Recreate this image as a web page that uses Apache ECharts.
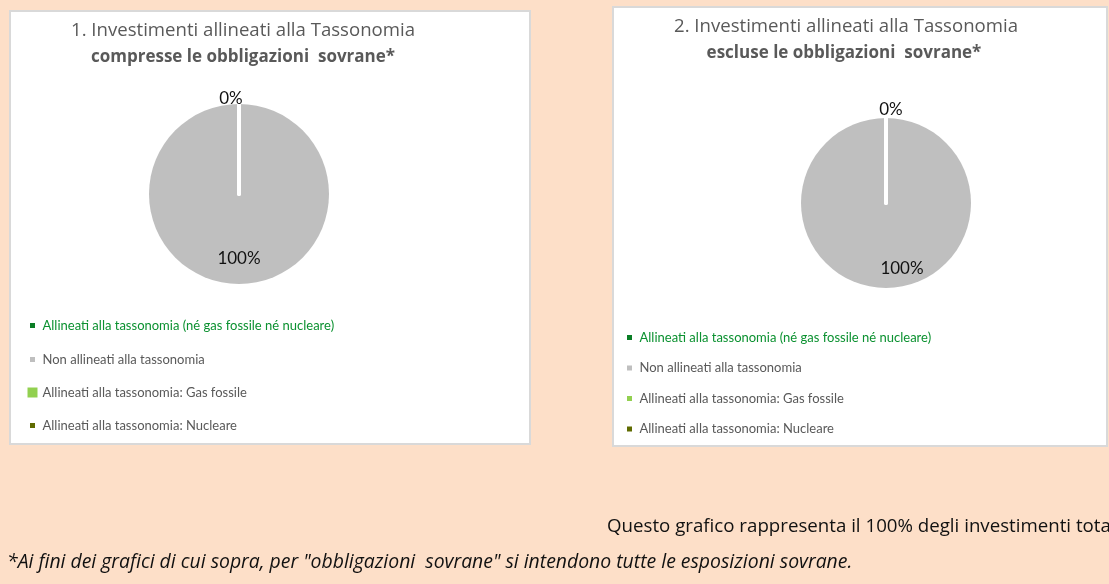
<!DOCTYPE html>
<html>
<head>
<meta charset="utf-8">
<title>Investimenti allineati alla Tassonomia</title>
<script src="https://cdn.jsdelivr.net/npm/echarts@6/dist/echarts.min.js"></script>
<style>
  html, body { margin: 0; padding: 0; background: #fddfc8; }
  #chart { width: 1109px; height: 584px; }
</style>
</head>
<body>
<div id="chart"></div>
<script>
// categories and values
const categories = [
  'Allineati alla tassonomia (né gas fossile né nucleare)',
  'Non allineati alla tassonomia',
  'Allineati alla tassonomia: Gas fossile',
  'Allineati alla tassonomia: Nucleare'
];
const sliceColors = ['#0a7d25', '#bfbfbf', '#92d050', '#5f6b00'];
const valuesWithSovereign = [0, 100, 0, 0];
const valuesWithoutSovereign = [0, 100, 0, 0];

const titleLines1 = ['1. Investimenti allineati alla Tassonomia', 'compresse le obbligazioni  sovrane*'];
const titleLines2 = ['2. Investimenti allineati alla Tassonomia', 'escluse le obbligazioni  sovrane*'];
const noteTotal = 'Questo grafico rappresenta il 100% degli investimenti totali.';
const noteSovereign = '*Ai fini dei grafici di cui sopra, per "obbligazioni  sovrane" si intendono tutte le esposizioni sovrane.';

const FONT = 'Lato, "Open Sans", sans-serif';
const WIDE_FONT = '"Open Sans", Lato, sans-serif';
const TEXT_GREY = '#595959';

const chartDom = document.getElementById('chart');
const chart = echarts.init(chartDom);

const buildPieData = (values) => values.map((v, i) => ({
  name: categories[i],
  value: v,
  itemStyle: {
    color: sliceColors[i],
    borderColor: '#fff',
    borderWidth: v === 0 ? 4 : 0,
    borderJoin: 'round'
  },
  label: { show: i < 2, position: i === 0 ? 'outside' : 'inside' }
}));

const buildLegendData = (bigGasIcon) => categories.map((name, i) => ({
  name: name,
  icon: 'rect',
  itemStyle: {
    color: sliceColors[i],
    borderColor: '#fff',
    borderWidth: (bigGasIcon && i === 2) ? 0 : 5
  },
  textStyle: { color: i === 0 ? '#0b9130' : TEXT_GREY }
}));

const pieSeries = (values, center, radius, lineLen, zeroDx, fullDx, fullDy) => ({
  type: 'pie',
  center: center,
  radius: radius,
  startAngle: 90,
  clockwise: true,
  avoidLabelOverlap: false,
  percentPrecision: 0,
  animation: false,
  emphasis: { scale: false },
  label: {
    formatter: '{d}%',
    fontFamily: FONT,
    fontSize: 17,
    color: '#111'
  },
  labelLine: { show: false, length: lineLen, length2: 0 },
  labelLayout: (params) => {
    if (params.dataIndex === 0) return { dx: zeroDx, align: 'center' };
    if (params.dataIndex === 1) return { dx: fullDx, dy: fullDy };
    return {};
  },
  data: buildPieData(values)
});

const legendBase = {
  orient: 'vertical',
  padding: 0,
  itemWidth: 10,
  itemHeight: 10,
  selectedMode: false,
  textStyle: { fontFamily: FONT, fontSize: 13, color: TEXT_GREY }
};

const option = {
  backgroundColor: '#fddfc8',
  graphic: [
    { type: 'rect', z: -10, shape: { x: 10, y: 11, width: 520, height: 433 },
      style: { fill: '#fff', stroke: '#d9d9d9', lineWidth: 2 } },
    { type: 'rect', z: -10, shape: { x: 613, y: 7, width: 494, height: 439 },
      style: { fill: '#fff', stroke: '#d9d9d9', lineWidth: 2 } },
    { type: 'text', x: 243, y: 31, style: { text: titleLines1[0], align: 'center', verticalAlign: 'middle',
      font: '18.6px ' + WIDE_FONT, fill: TEXT_GREY } },
    { type: 'text', x: 243, y: 57, style: { text: titleLines1[1], align: 'center', verticalAlign: 'middle',
      font: 'bold 17px ' + WIDE_FONT, fill: TEXT_GREY } },
    { type: 'text', x: 846, y: 27, style: { text: titleLines2[0], align: 'center', verticalAlign: 'middle',
      font: '18.6px ' + WIDE_FONT, fill: TEXT_GREY } },
    { type: 'text', x: 844, y: 53, style: { text: titleLines2[1], align: 'center', verticalAlign: 'middle',
      font: 'bold 17px ' + WIDE_FONT, fill: TEXT_GREY } },
    { type: 'text', x: 607, y: 527, style: { text: noteTotal, verticalAlign: 'middle',
      font: '18.7px ' + WIDE_FONT, fill: '#111' } },
    { type: 'text', x: 7, y: 562, style: { text: noteSovereign, verticalAlign: 'middle',
      font: 'italic 19.4px ' + WIDE_FONT, fill: '#111' } }
  ],
  legend: [
    Object.assign({}, legendBase, { left: 25, top: 318, itemGap: 19, data: buildLegendData(true) }),
    Object.assign({}, legendBase, { left: 622, top: 330, itemGap: 15.5, data: buildLegendData(false) })
  ],
  series: [
    pieSeries(valuesWithSovereign, [239, 194], 90, 5, -3, 0, 17),
    pieSeries(valuesWithoutSovereign, [886, 203], 85, 8, 10, 16, 20)
  ]
};

chart.setOption(option);
window.addEventListener('resize', () => chart.resize());
</script>
</body>
</html>
